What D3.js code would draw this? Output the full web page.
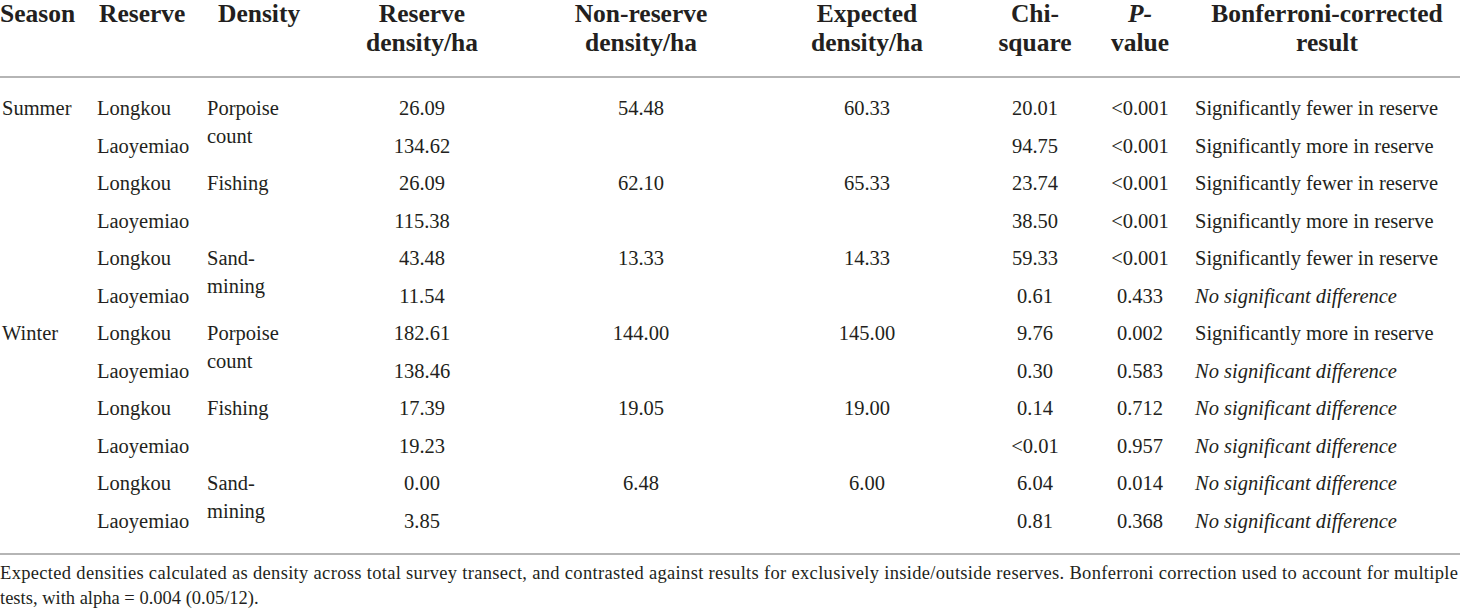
<html>
<head>
<meta charset="utf-8" />
<title>Reserve density table</title>
<script src="https://d3js.org/d3.v7.min.js"></script>
<style>
  body { margin: 0; background: #fff; }
  svg text { font-family: "Liberation Serif", "DejaVu Serif", serif; fill: #231f20; }
</style>
</head>
<body>
<svg class="chart"></svg>
<script type="application/javascript">
// table values, one entry per row
const seasons = ["Summer", "", "", "", "", "", "Winter", "", "", "", "", ""];
const reserves = ["Longkou", "Laoyemiao", "Longkou", "Laoyemiao", "Longkou", "Laoyemiao",
                  "Longkou", "Laoyemiao", "Longkou", "Laoyemiao", "Longkou", "Laoyemiao"];
const densityTypes = [["Porpoise", "count"], null, ["Fishing"], null, ["Sand-", "mining"], null,
                      ["Porpoise", "count"], null, ["Fishing"], null, ["Sand-", "mining"], null];
const reserveDensity = ["26.09", "134.62", "26.09", "115.38", "43.48", "11.54",
                        "182.61", "138.46", "17.39", "19.23", "0.00", "3.85"];
const nonReserveDensity = ["54.48", "", "62.10", "", "13.33", "", "144.00", "", "19.05", "", "6.48", ""];
const expectedDensity = ["60.33", "", "65.33", "", "14.33", "", "145.00", "", "19.00", "", "6.00", ""];
const chiSquare = ["20.01", "94.75", "23.74", "38.50", "59.33", "0.61",
                   "9.76", "0.30", "0.14", "<0.01", "6.04", "0.81"];
const pValue = ["<0.001", "<0.001", "<0.001", "<0.001", "<0.001", "0.433",
                "0.002", "0.583", "0.712", "0.957", "0.014", "0.368"];
const results = ["Significantly fewer in reserve", "Significantly more in reserve",
                 "Significantly fewer in reserve", "Significantly more in reserve",
                 "Significantly fewer in reserve", "No significant difference",
                 "Significantly more in reserve", "No significant difference",
                 "No significant difference", "No significant difference",
                 "No significant difference", "No significant difference"];
const headers = [["Season"], ["Reserve"], ["Density"], ["Reserve", "density/ha"],
                 ["Non-reserve", "density/ha"], ["Expected", "density/ha"], ["Chi-", "square"],
                 ["P-", "value"], ["Bonferroni-corrected", "result"]];
const footnote = ["Expected densities calculated as density across total survey transect, and contrasted against results for exclusively inside/outside reserves. Bonferroni correction used to account for multiple",
                  "tests, with alpha = 0.004 (0.05/12)."];

const W = 1460, H = 613;
const svg = d3.select("svg").attr("width", W).attr("height", H);

// column layout: x anchor and alignment for header and body
const cols = [
  {hx: 0,    ha: "start",  bx: 2,    ba: "start"},
  {hx: 99,   ha: "start",  bx: 97,   ba: "start"},
  {hx: 218,  ha: "start",  bx: 207,  ba: "start"},
  {hx: 422,  ha: "middle", bx: 422,  ba: "middle"},
  {hx: 641,  ha: "middle", bx: 641,  ba: "middle"},
  {hx: 867,  ha: "middle", bx: 867,  ba: "middle"},
  {hx: 1035, ha: "middle", bx: 1035, ba: "middle"},
  {hx: 1140, ha: "middle", bx: 1140, ba: "middle"},
  {hx: 1327, ha: "middle", bx: 1195, ba: "start"}
];

const y = d3.scaleLinear().domain([0, 11]).range([115, 527.5]);

// header
headers.forEach(function(lines, c) {
  const t = svg.append("text")
    .attr("x", cols[c].hx).attr("text-anchor", cols[c].ha)
    .style("font-weight", "bold").style("font-size", "25.5px");
  lines.forEach(function(l, i) {
    t.append("tspan").attr("x", cols[c].hx).attr("y", 22 + i * 29)
      .style("font-style", (c === 7 && i === 0) ? "italic" : null)
      .text(l);
  });
});

// rules
svg.selectAll("line.rule").data([77, 554]).enter().append("line")
  .attr("class", "rule")
  .attr("x1", 0).attr("x2", W).attr("y1", d => d).attr("y2", d => d)
  .attr("stroke", "#b5b5b5").attr("stroke-width", 2);

// body cells
const rows = d3.range(12).map(i => [seasons[i], reserves[i], densityTypes[i], reserveDensity[i],
  nonReserveDensity[i], expectedDensity[i], chiSquare[i], pValue[i], results[i]]);

rows.forEach(function(row, r) {
  row.forEach(function(cell, c) {
    if (!cell || cell.length === 0) return;
    const lines = Array.isArray(cell) ? cell : [cell];
    const t = svg.append("text")
      .attr("x", cols[c].bx).attr("text-anchor", cols[c].ba)
      .style("font-size", "20.5px")
      .style("font-style", (c === 8 && cell.startsWith("No")) ? "italic" : null);
    lines.forEach(function(l, i) {
      t.append("tspan").attr("x", cols[c].bx).attr("y", y(r) + i * 28).text(l);
    });
  });
});

// footnote
svg.selectAll("text.foot").data(footnote).enter().append("text")
  .attr("class", "foot")
  .attr("x", 0).attr("y", (d, i) => 579 + i * 25)
  .style("font-size", "18.5px")
  .attr("textLength", (d, i) => i === 0 ? 1458 : null)
  .attr("lengthAdjust", "spacing")
  .text(d => d);
</script>
</body>
</html>
